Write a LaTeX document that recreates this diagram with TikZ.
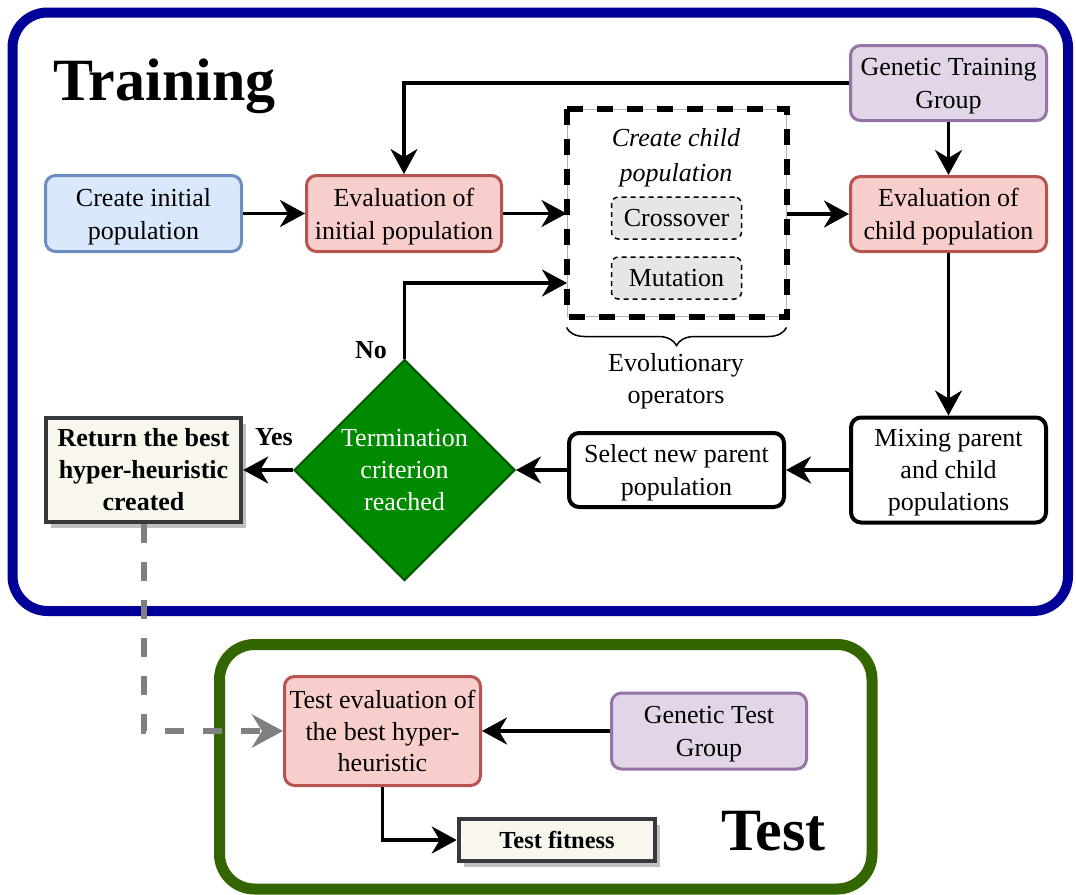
\documentclass[tikz,border=0pt]{standalone}
\usepackage{fontspec}
\setmainfont{Liberation Serif}
\usetikzlibrary{arrows.meta,shapes.geometric,decorations.pathreplacing,calc,shadows}
\definecolor{bluefill}{HTML}{DAE8FC}
\definecolor{bluedraw}{HTML}{6C8EBF}
\definecolor{redfill}{HTML}{F8CECC}
\definecolor{reddraw}{HTML}{B85450}
\definecolor{purfill}{HTML}{E1D5E7}
\definecolor{purdraw}{HTML}{9673A6}
\definecolor{frameblue}{HTML}{000099}
\definecolor{framegreen}{HTML}{336600}
\definecolor{diafill}{HTML}{008A00}
\definecolor{diadraw}{HTML}{005700}
\definecolor{retfill}{HTML}{F9F7ED}
\definecolor{retdraw}{HTML}{36393D}
\definecolor{opfill}{HTML}{E6E6E6}
\definecolor{dashgrey}{HTML}{808080}
\begin{document}
\begin{tikzpicture}[x=1pt,y=-1pt,
  every node/.style={font=\fontsize{26pt}{32pt}\selectfont, align=center, inner sep=0pt},
  two/.style={font=\fontsize{26pt}{33pt}\selectfont, text depth=0pt},
  box/.style={draw, rounded corners=10pt, line width=3pt},
  bluebox/.style={box, fill=bluefill, draw=bluedraw},
  redbox/.style={box, fill=redfill, draw=reddraw},
  purbox/.style={box, fill=purfill, draw=purdraw},
  blackbox/.style={box, fill=white, draw=black, line width=4pt},
  retbox/.style={draw=retdraw, fill=retfill, line width=4.5pt,
     font=\fontsize{26pt}{32pt}\selectfont\bfseries,
     drop shadow={shadow xshift=5pt, shadow yshift=-6pt, fill=black!25, opacity=1}},
  opbox/.style={draw=black, fill=opfill, dashed, dash pattern=on 5pt off 4pt, line width=1.5pt, rounded corners=7pt},
  frame/.style={line width=10pt, rounded corners=35pt},
  conn/.style={line width=3.5pt, -{Stealth[length=25pt,width=27pt,inset=8pt]}},
  greyconn/.style={line width=6pt, draw=dashgrey, dash pattern=on 19pt off 19pt,
     -{Stealth[length=31pt,width=33pt,inset=10pt]}},
  biglabel/.style={font=\fontsize{60pt}{72pt}\selectfont\bfseries, anchor=base west},
  boldlabel/.style={font=\fontsize{26pt}{32pt}\selectfont\bfseries}
]
\useasboundingbox (0,0) rectangle (1076,894);
\fill[white] (0,0) rectangle (1076,894);

% frames
\draw[frame, draw=frameblue] (12.5,12.5) rectangle (1068,611);
\draw[frame, draw=framegreen, line width=11pt] (219.5,644.5) rectangle (872,889);

% titles
\node[biglabel] (training) at (53,100) {Training};
\node[biglabel] (test) at (721,850) {Test};

% training nodes
\node[bluebox, two, minimum width=196pt, minimum height=76pt] (init) at (143.5,213.5) {Create initial\\population};
\node[redbox, two, minimum width=195pt, minimum height=76pt] (evalinit) at (404,213.5) {Evaluation of\\initial population};
\node[purbox, two, text depth=-3pt, minimum width=196pt, minimum height=75pt] (gtg) at (948.5,83) {Genetic Training\\Group};
\node[redbox, two, minimum width=196pt, minimum height=75pt] (evalchild) at (948.5,214) {Evaluation of\\child population};

% container
\node[draw=black!30, line width=1pt, minimum width=219pt, minimum height=207pt] (container) at (676.5,212.5) {};
\draw[line width=6pt, dash pattern=on 16pt off 14pt] (container.north west) rectangle (container.south east);
\node[font=\fontsize{26pt}{35pt}\selectfont\itshape] (cclabel) at (676,157.5) {Create child\\population};
\node[opbox, minimum width=130pt, minimum height=42pt] (cross) at (676.5,218) {Crossover};
\node[opbox, minimum width=130pt, minimum height=42pt] (mut) at (676.5,278) {Mutation};
\draw[line width=1.5pt, decorate, decoration={brace, amplitude=18pt, mirror}] (container.south west) ++(0,11) coordinate (bl) -- ($(container.south east)+(0,11)$) coordinate (br);
\node (evo) at (676,381) {Evolutionary\\operators};

\node[blackbox, text depth=0pt, minimum width=195pt, minimum height=105pt] (mixing) at (948.5,470) {Mixing parent\\and child\\populations};
\node[blackbox, two, minimum width=215pt, minimum height=74pt] (select) at (676.5,470) {Select new parent\\population};
\node[shape=diamond, aspect=1, fill=diafill, draw=diadraw, line width=2pt, text=white, minimum width=221pt, minimum height=221pt] (term) at (404.5,470) {Termination\\criterion\\reached};
\node[retbox, minimum width=195pt, minimum height=104pt] (ret) at (143.5,470) {Return the best\\hyper-heuristic\\created};

\node[boldlabel] (no) at (371,350) {No};
\node[boldlabel] (yes) at (274,437) {Yes};

% test nodes
\node[redbox, minimum width=196pt, minimum height=109pt, font=\fontsize{26pt}{31.5pt}\selectfont] (testeval) at (382.5,731) {Test evaluation of\\the best hyper-\\heuristic};
\node[purbox, two, minimum width=195pt, minimum height=76pt] (gtest) at (709,731) {Genetic Test\\Group};
\node[retbox, minimum width=196pt, minimum height=42pt, font=\fontsize{24.5pt}{30pt}\selectfont\bfseries] (fitness) at (557,840) {Test fitness};

% connectors
\coordinate (noend) at (567,283);
\draw[conn] (init.east) -- (evalinit.west);
\draw[conn] (gtg.west) -| (evalinit.north);
\draw[conn] (evalinit.east) -- (evalinit.east -| container.west);
\draw[conn] (container.east |- evalchild.west) -- (evalchild.west);
\draw[conn] (gtg.south) -- (evalchild.north);
\draw[conn] (evalchild.south) -- (mixing.north);
\draw[conn] (mixing.west) -- (select.east);
\draw[conn] (select.west) -- (term.east);
\draw[conn] (term.west) -- (ret.east);
\draw[conn] (term.north) |- (noend);
\draw[conn] (gtest.west) -- (testeval.east);
\draw[conn] (testeval.south) |- (fitness.west);
\draw[greyconn] (ret.south) |- (testeval.west);
\end{tikzpicture}
\end{document}
